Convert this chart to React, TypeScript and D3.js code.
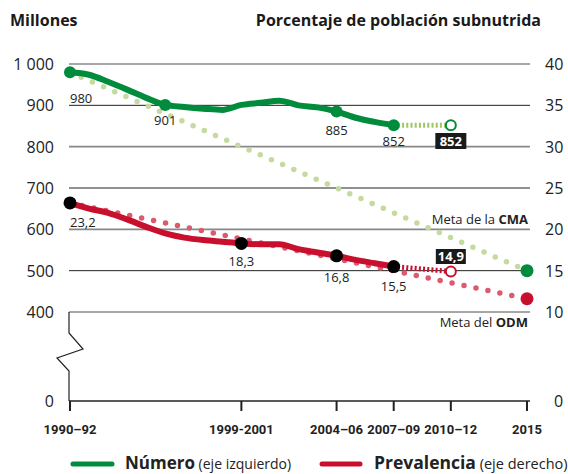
import * as d3 from 'd3';

const W = 568;
const H = 474;

// Número de personas subnutridas (millones), eje izquierdo
const numberYears = [1991, 1992, 1993, 1994, 1995, 1996, 1997, 1998, 1999, 2000, 2001, 2002, 2003, 2004, 2005, 2006, 2007, 2008];
const numberValues = [980, 974, 957, 938, 918, 901, 896, 892, 889, 901, 906, 911, 900, 895, 885, 870, 860, 852];
// Prevalencia (%), eje derecho
const prevValues = [23.2, 22.5, 22.0, 21.2, 20.3, 19.5, 19.0, 18.7, 18.5, 18.3, 18.2, 18.2, 17.6, 17.2, 16.8, 16.3, 15.9, 15.5];

const numberMarkers = [
  { year: 1991, value: 980, label: '980' },
  { year: 1996, value: 901, label: '901' },
  { year: 2005, value: 885, label: '885' },
  { year: 2008, value: 852, label: '852' },
];
const prevMarkers = [
  { year: 1991, value: 23.2, label: '23,2' },
  { year: 2000, value: 18.3, label: '18,3' },
  { year: 2005, value: 16.8, label: '16,8' },
  { year: 2008, value: 15.5, label: '15,5' },
];
const numberProjection = [
  { year: 2008, value: 852 },
  { year: 2011, value: 852 },
];
const prevProjection = [
  { year: 2008, value: 15.5 },
  { year: 2011, value: 14.9 },
];
const cmaTarget = [
  { year: 1991, value: 980 },
  { year: 2015, value: 500 },
];
const odmTarget = [
  { year: 1991, value: 23.2 },
  { year: 2015, value: 11.6 },
];

const leftTicks = [400, 500, 600, 700, 800, 900, 1000];
const rightTicks = [10, 15, 20, 25, 30, 35, 40];
const xTicks = [
  { year: 1991, label: '1990–92' },
  { year: 2000, label: '1999-2001' },
  { year: 2005, label: '2004–06' },
  { year: 2008, label: '2007–09' },
  { year: 2011, label: '2010–12' },
  { year: 2015, label: '2015' },
];

const GREEN = '#008c3c';
const LIGHT_GREEN = '#c5da9d';
const RED = '#c8102e';
const PINK = '#db5a6d';
const FONT = '"Open Sans", "Noto Sans", sans-serif';
const NARROW = '"Liberation Sans Narrow", "Roboto", sans-serif';

type Pt = { year: number; value: number };

export default function App() {
  const x = d3.scaleLinear().domain([1991, 2015]).range([70, 527]);
  const yL = d3.scaleLinear().domain([400, 1000]).range([312, 64]);
  const yR = d3.scaleLinear().domain([10, 40]).range([312, 64]);
  const baseY = 401;
  const gridRight = 530;

  const lineL = d3.line<Pt>().x((d) => x(d.year)).y((d) => yL(d.value));
  const lineR = d3.line<Pt>().x((d) => x(d.year)).y((d) => yR(d.value));
  const smoothL = d3
    .line<number>()
    .x((_, i) => x(numberYears[i]))
    .y((d) => yL(d))
    .curve(d3.curveMonotoneX);
  const smoothR = d3
    .line<number>()
    .x((_, i) => x(numberYears[i]))
    .y((d) => yR(d))
    .curve(d3.curveMonotoneX);

  const x0 = x(1991) - 1;
  const y400 = yL(400);
  // broken axis zigzag below 400
  const breakPath = `M${x0},${y400}V${y400 + 21}L${x0 + 14},${y400 + 37}L${x0 - 12},${y400 + 46}L${x0},${y400 + 59}V${baseY}`;

  return (
    <svg width={W} height={H} style={{ position: 'absolute', left: 0, top: 0 }} fontFamily={FONT}>
      <rect width={W} height={H} fill="#fff" />
      <text x={10} y={26} fontSize={16} fontWeight={700} fill="#1a1a1a">Millones</text>
      <text x={541} y={26} fontSize={16} fontWeight={700} fill="#1a1a1a" textAnchor="end">
        Porcentaje de población subnutrida
      </text>

      {/* gridlines */}
      {leftTicks.map((t, i) => (
        <line
          key={t}
          x1={x0}
          x2={gridRight}
          y1={yL(t)}
          y2={yL(t)}
          stroke={i % 2 === 0 ? '#888' : '#222'}
          strokeWidth={i % 2 === 0 ? 1.6 : 1}
        />
      ))}
      {leftTicks.map((t) => (
        <text key={'l' + t} x={54} y={yL(t) + 6} fontSize={16} textAnchor="end" fill="#222">
          {t === 1000 ? '1 000' : t}
        </text>
      ))}
      {rightTicks.map((t) => (
        <text key={'r' + t} x={545} y={yR(t) + 6} fontSize={16} fill="#222">
          {t}
        </text>
      ))}
      <text x={54} y={baseY + 6} fontSize={16} textAnchor="end" fill="#222">0</text>
      <text x={554} y={baseY + 6} fontSize={16} fill="#222">0</text>

      {/* broken axis + baseline */}
      <path d={breakPath} fill="none" stroke="#222" strokeWidth={1.2} />
      <line x1={x0} x2={gridRight} y1={baseY} y2={baseY} stroke="#222" strokeWidth={1.5} />
      {xTicks.map((t) => (
        <g key={t.label}>
          <line x1={x(t.year)} x2={x(t.year)} y1={baseY} y2={baseY + 10} stroke="#222" strokeWidth={2} />
          <text x={x(t.year)} y={434} fontSize={13} fontWeight={700} textAnchor="middle" fill="#222" fontFamily={NARROW}>
            {t.label}
          </text>
        </g>
      ))}

      {/* target lines */}
      <path d={lineL(cmaTarget) ?? ''} fill="none" stroke={LIGHT_GREEN} strokeWidth={5.5} strokeLinecap="round" strokeDasharray="0 12.2" />
      <path d={lineR(odmTarget) ?? ''} fill="none" stroke={PINK} strokeWidth={5.5} strokeLinecap="round" strokeDasharray="0 12.2" />

      {/* projections */}
      <path d={lineL(numberProjection) ?? ''} fill="none" stroke="#9cc85e" strokeWidth={5} strokeDasharray="2 2.2" />
      <path d={lineR(prevProjection) ?? ''} fill="none" stroke={RED} strokeWidth={5} strokeDasharray="2 2.2" />

      {/* main series */}
      <path d={smoothL(numberValues) ?? ''} fill="none" stroke={GREEN} strokeWidth={6} strokeLinejoin="round" />
      <path d={smoothR(prevValues) ?? ''} fill="none" stroke={RED} strokeWidth={6} strokeLinejoin="round" />

      {numberMarkers.map((m) => (
        <circle key={'n' + m.year} cx={x(m.year)} cy={yL(m.value)} r={6} fill={GREEN} />
      ))}
      {prevMarkers.map((m) => (
        <circle key={'p' + m.year} cx={x(m.year)} cy={yR(m.value)} r={6.5} fill="#000" />
      ))}

      {/* open projection markers */}
      <circle cx={x(2011)} cy={yL(852)} r={5} fill="#fff" stroke={GREEN} strokeWidth={2} />
      <circle cx={x(2011)} cy={yR(14.9)} r={5} fill="#fff" stroke={RED} strokeWidth={2} />

      {/* target end markers */}
      <circle cx={x(2015)} cy={yL(500)} r={6.5} fill={GREEN} />
      <circle cx={x(2015)} cy={yR(11.6)} r={6.5} fill={RED} />

      {/* value labels */}
      <text x={70} y={yL(980) + 31} fontSize={13} fill="#222">980</text>
      <text x={x(1996)} y={yL(901) + 20} fontSize={13} fill="#222" textAnchor="middle">901</text>
      <text x={x(2005)} y={yL(885) + 23} fontSize={13} fill="#222" textAnchor="middle">885</text>
      <text x={x(2008)} y={yL(852) + 21} fontSize={13} fill="#222" textAnchor="middle">852</text>
      <rect x={x(2011) - 15.5} y={133} width={31} height={16} fill="#1a1a1a" />
      <text x={x(2011)} y={146} fontSize={13} fontWeight={700} fill="#fff" textAnchor="middle">852</text>

      <text x={70} y={yR(23.2) + 24} fontSize={13} fill="#222">23,2</text>
      <text x={x(2000)} y={yR(18.3) + 23} fontSize={13} fill="#222" textAnchor="middle">18,3</text>
      <text x={x(2005)} y={yR(16.8) + 26} fontSize={13} fill="#222" textAnchor="middle">16,8</text>
      <text x={x(2008)} y={yR(15.5) + 24} fontSize={13} fill="#222" textAnchor="middle">15,5</text>
      <rect x={x(2011) - 15} y={249} width={30} height={15} fill="#1a1a1a" />
      <text x={x(2011)} y={261} fontSize={13} fontWeight={700} fill="#fff" textAnchor="middle">14,9</text>

      <text x={528} y={224} fontSize={13} fill="#222" textAnchor="end">
        Meta de la <tspan fontWeight={700}>CMA</tspan>
      </text>
      <text x={528} y={327} fontSize={13} fill="#222" textAnchor="end">
        Meta del <tspan fontWeight={700}>ODM</tspan>
      </text>

      {/* legend */}
      <line x1={73} x2={112} y1={464} y2={464} stroke={GREEN} strokeWidth={5} strokeLinecap="round" />
      <text x={125} y={469} fill="#222">
        <tspan fontSize={17} fontWeight={700}>Número</tspan>
        <tspan fontSize={14}> (eje izquierdo)</tspan>
      </text>
      <line x1={322} x2={360} y1={464} y2={464} stroke={RED} strokeWidth={5} strokeLinecap="round" />
      <text x={374} y={469} fill="#222">
        <tspan fontSize={17.5} fontWeight={700}>Prevalencia</tspan>
        <tspan fontSize={14.5}> (eje derecho)</tspan>
      </text>
    </svg>
  );
}
